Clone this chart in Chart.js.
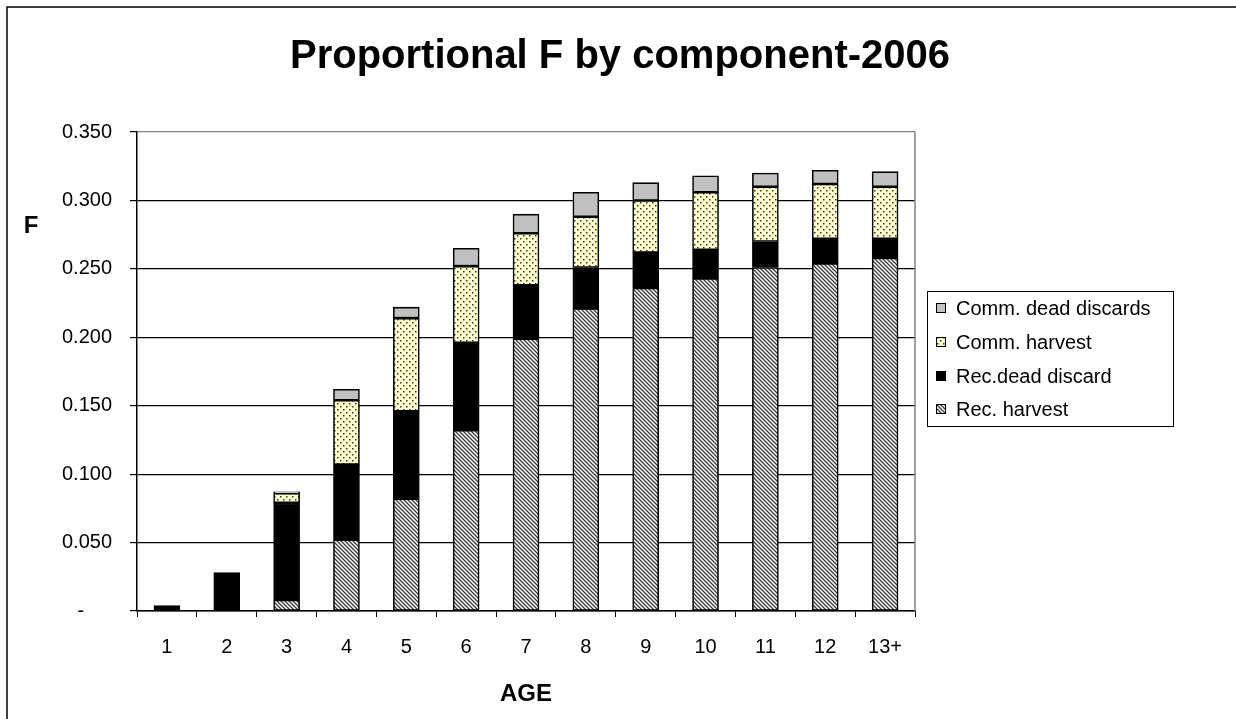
<!DOCTYPE html>
<html>
<head>
<meta charset="utf-8">
<script src="https://cdn.jsdelivr.net/npm/chart.js@4.4.1/dist/chart.umd.min.js"></script>
<style>
  html, body { margin: 0; padding: 0; background: #fff; }
  #wrap { width: 1236px; height: 719px; position: relative; }
</style>
</head>
<body>
<div id="wrap"><canvas id="fChart" width="1236" height="719"></canvas></div>
<script>
// Возраст (категории оси X)
const ages = ['1', '2', '3', '4', '5', '6', '7', '8', '9', '10', '11', '12', '13+'];

// Компоненты F по возрастам (снизу вверх в стопке)
const recHarvest      = [0, 0, 0.008, 0.052, 0.082, 0.132, 0.199, 0.221, 0.236, 0.243, 0.251, 0.254, 0.258];
const recDeadDiscard  = [0.004, 0.028, 0.071, 0.055, 0.064, 0.064, 0.039, 0.030, 0.026, 0.021, 0.019, 0.018, 0.014];
const commHarvest     = [0, 0, 0.007, 0.047, 0.068, 0.056, 0.038, 0.037, 0.038, 0.042, 0.040, 0.040, 0.038];
const commDeadDiscard = [0, 0, 0.001, 0.008, 0.008, 0.013, 0.014, 0.018, 0.013, 0.012, 0.010, 0.010, 0.011];

const seriesNames = ['Rec. harvest', 'Rec.dead discard', 'Comm. harvest', 'Comm. dead discards'];

const FONT = '"Liberation Sans", Arial, sans-serif';

// Штриховка для Rec. harvest
function hatchPattern() {
    const c = document.createElement('canvas');
    c.width = 4; c.height = 4;
    const g = c.getContext('2d');
    g.fillStyle = '#fff';
    g.fillRect(0, 0, 4, 4);
    g.strokeStyle = '#3a3a3a';
    g.lineWidth = 1.3;
    g.beginPath();
    g.moveTo(-1, -1); g.lineTo(5, 5);
    g.moveTo(-1, 3); g.lineTo(1, 5);
    g.moveTo(3, -1); g.lineTo(5, 1);
    g.stroke();
    return g.createPattern(c, 'repeat');
}

// Точки на жёлтом фоне для Comm. harvest
function dotPattern() {
    const c = document.createElement('canvas');
    c.width = 6; c.height = 6;
    const g = c.getContext('2d');
    g.fillStyle = '#ffffcc';
    g.fillRect(0, 0, 6, 6);
    g.fillStyle = '#333';
    g.fillRect(1, 1, 1.5, 1.5);
    g.fillRect(4, 4, 1.5, 1.5);
    return g.createPattern(c, 'repeat');
}

const fills = [hatchPattern(), '#000000', dotPattern(), '#c0c0c0'];

function ds(label, data, fill) {
    return {
        label: label,
        data: data,
        backgroundColor: fill,
        borderColor: '#000',
        borderWidth: 1.6,
        borderSkipped: false,
        barThickness: 26
    };
}

// Рамка, заголовки и легенда
const decorPlugin = {
    id: 'decor',
    afterDraw(chart) {
        const ctx = chart.ctx;
        const a = chart.chartArea;
        ctx.save();
        // внешняя рамка (видны только левая и верхняя стороны)
        ctx.strokeStyle = '#000';
        ctx.lineWidth = 1.5;
        ctx.beginPath();
        ctx.moveTo(7, 719); ctx.lineTo(7, 7); ctx.lineTo(1236, 7);
        ctx.stroke();
        // правая граница области построения
        ctx.strokeStyle = '#808080';
        ctx.lineWidth = 1.5;
        ctx.beginPath();
        ctx.moveTo(a.right, a.top); ctx.lineTo(a.right, a.bottom);
        ctx.stroke();

        ctx.fillStyle = '#000';
        ctx.textAlign = 'center';
        ctx.textBaseline = 'middle';
        ctx.font = 'bold 40px ' + FONT;
        ctx.fillText('Proportional F by component-2006', 620, 57);
        ctx.font = 'bold 24px ' + FONT;
        ctx.fillText('AGE', (a.left + a.right) / 2, 694);
        ctx.fillText('F', 31, 226);

        // легенда
        const lx = 927, ly = 291, lw = 246, lh = 135;
        ctx.strokeStyle = '#000';
        ctx.lineWidth = 1;
        ctx.strokeRect(lx + 0.5, ly + 0.5, lw, lh);
        ctx.font = '20px ' + FONT;
        ctx.textAlign = 'left';
        const rows = [308, 342, 376, 409];
        for (let i = 0; i < 4; i++) {
            const k = 3 - i;
            const y = rows[i];
            ctx.fillStyle = fills[k];
            ctx.fillRect(936, y - 5, 10, 10);
            ctx.strokeStyle = '#000';
            ctx.strokeRect(936.5, y - 4.5, 9, 9);
            ctx.fillStyle = '#000';
            ctx.fillText(seriesNames[k], 956, y + 1);
        }
        ctx.restore();
    }
};

const fChartConfig = {
    type: 'bar',
    data: {
        labels: ages,
        datasets: [
            ds(seriesNames[0], recHarvest, fills[0]),
            ds(seriesNames[1], recDeadDiscard, fills[1]),
            ds(seriesNames[2], commHarvest, fills[2]),
            ds(seriesNames[3], commDeadDiscard, fills[3])
        ]
    },
    options: {
        responsive: false,
        animation: false,
        layout: { padding: { left: 0, right: 321, top: 132, bottom: 58 } },
        plugins: {
            legend: { display: false },
            title: { display: false },
            tooltip: { enabled: false }
        },
        scales: {
            x: {
                stacked: true,
                afterFit(scale) { scale.height = 50; },
                grid: {
                    offset: true,
                    drawOnChartArea: false,
                    color: '#000',
                    tickLength: 6
                },
                border: { color: '#000', width: 1.5 },
                ticks: {
                    color: '#000',
                    padding: 18,
                    font: { family: FONT, size: 20 }
                }
            },
            y: {
                stacked: true,
                min: 0,
                max: 0.35,
                afterFit(scale) { scale.width = 137; },
                grid: {
                    color: (c) => (c.tick && Math.abs(c.tick.value - 0.35) < 1e-9) ? '#808080' : '#000',
                    tickColor: '#000',
                    lineWidth: 1.2,
                    tickLength: 7
                },
                border: { color: '#000', width: 1.5 },
                ticks: {
                    stepSize: 0.05,
                    color: '#000',
                    padding: 18,
                    font: { family: FONT, size: 20 },
                    callback: (v) => (Math.abs(v) < 1e-9 ? '-     ' : v.toFixed(3))
                }
            }
        }
    },
    plugins: [decorPlugin]
};

window.onload = function () {
    const ctx = document.getElementById('fChart').getContext('2d');
    new Chart(ctx, fChartConfig);
};
</script>
</body>
</html>
